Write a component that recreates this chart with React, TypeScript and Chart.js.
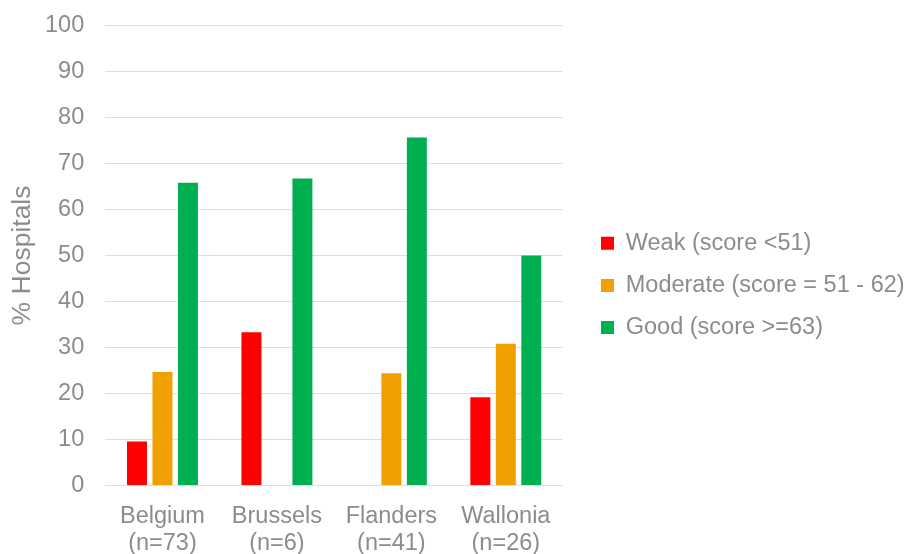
import React, { useEffect, useRef } from "react";
import { Chart, registerables } from "chart.js";

Chart.register(...registerables);

// Share of hospitals per score band, by region
const regions = [
  ["Belgium", "(n=73)"],
  ["Brussels", "(n=6)"],
  ["Flanders", "(n=41)"],
  ["Wallonia", "(n=26)"],
];
const weak = [9.6, 33.3, 0, 19.2];
const moderate = [24.7, 0, 24.4, 30.8];
const good = [65.8, 66.7, 75.6, 50.0];

const seriesNames = [
  "Weak (score <51)",
  "Moderate (score = 51 - 62)",
  "Good (score >=63)",
];
const seriesColors = ["#FF0000", "#F0A000", "#00B050"];

const yTitle = "% Hospitals";

const FONT = "'Liberation Sans', Arial, sans-serif";
const TEXT = "#8c8c8c";
const GRID = "#dedede";

// The layout caps side boxes at a fraction of the canvas width; let the
// legend keep the full width its labels need.
const fullWidthLegend = {
  id: "fullWidthLegend",
  beforeInit(chart: any) {
    const legend = chart.legend;
    if (!legend || legend.__wide) return;
    legend.__wide = true;
    const fit = legend.fit.bind(legend);
    legend.fit = function () {
      fit();
      if (!this.options.display || this.isHorizontal()) return;
      const cols = (this.columnSizes || []).reduce(
        (sum: number, c: any) => sum + c.width,
        0
      );
      this.width = this.options.labels.padding + cols + 10;
    };
  },
};

export default function App() {
  const canvasRef = useRef<HTMLCanvasElement | null>(null);

  useEffect(() => {
    const canvas = canvasRef.current;
    if (!canvas) return;
    const values = [weak, moderate, good];
    const chart = new Chart(canvas, {
      type: "bar",
      data: {
        labels: regions,
        datasets: seriesNames.map((name, i) => ({
          label: name,
          data: values[i],
          backgroundColor: seriesColors[i],
          borderWidth: 0,
          categoryPercentage: 0.668,
          barPercentage: 0.784,
        })),
      },
      plugins: [fullWidthLegend],
      options: {
        responsive: true,
        maintainAspectRatio: false,
        animation: false,
        layout: { padding: { top: 16.8, right: -7.6, bottom: 0, left: 0 } },
        plugins: {
          tooltip: { enabled: false },
          legend: {
            position: "right",
            align: "center",
            labels: {
              boxWidth: 13,
              boxHeight: 13,
              padding: 18.7,
              color: TEXT,
              font: { family: FONT, size: 23.5 },
            },
          },
        },
        scales: {
          x: {
            grid: { display: false },
            border: { display: false },
            ticks: {
              color: TEXT,
              font: { family: FONT, size: 23.5, lineHeight: 1.135 },
              padding: 9.5,
              maxRotation: 0,
              autoSkip: false,
            },
            afterFit: (scale: any) => {
              scale.height = 68.4;
            },
          },
          y: {
            min: 0,
            max: 100,
            border: { display: false },
            grid: { color: GRID, lineWidth: 1, drawTicks: false },
            ticks: {
              stepSize: 10,
              color: TEXT,
              padding: 21,
              font: { family: FONT, size: 23.5 },
            },
            title: {
              display: true,
              text: yTitle,
              color: TEXT,
              font: { family: FONT, size: 26.5, lineHeight: 1.2 },
              padding: { top: 6.6, bottom: 6.6 },
            },
            afterFit: (scale: any) => {
              scale.width = 105.25;
              scale.paddingTop = 25.3;
              scale.paddingBottom = 0;
            },
          },
          // spacer between plot area and legend
          gap: {
            type: "linear",
            position: "right",
            display: true,
            grid: { display: false },
            border: { display: false },
            ticks: { display: false },
            afterFit: (scale: any) => {
              scale.width = 19.25;
            },
          },
        },
      },
    });
    return () => chart.destroy();
  }, []);

  return (
    <div
      style={{
        position: "absolute",
        left: 0,
        top: 0,
        width: 907,
        height: 554,
        background: "#ffffff",
      }}
    >
      <canvas ref={canvasRef} />
    </div>
  );
}
